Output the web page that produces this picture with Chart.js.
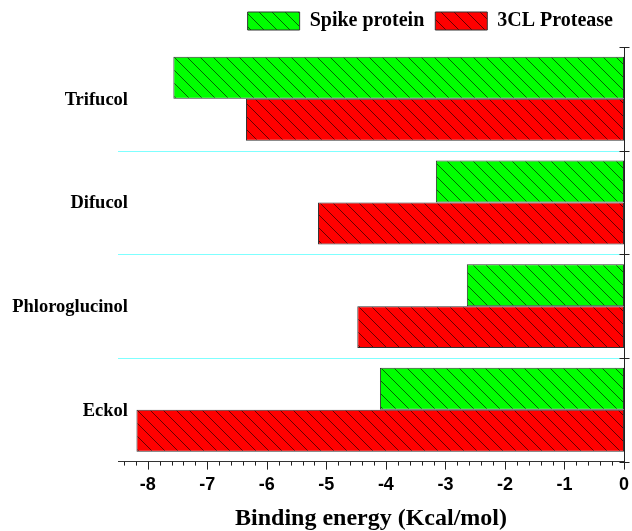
<!DOCTYPE html>
<html>
<head>
<meta charset="utf-8">
<script src="https://cdn.jsdelivr.net/npm/chart.js@4"></script>
<style>
  html, body { margin: 0; padding: 0; background: #ffffff; }
  #wrap { width: 632px; height: 531px; }
</style>
</head>
<body>
<div id="wrap"><canvas id="c"></canvas></div>
<script>
const categories = ['Trifucol', 'Difucol', 'Phloroglucinol', 'Eckol'];
const spikeProtein = [-7.57, -3.16, -2.64, -4.10];
const protease3CL = [-6.35, -5.14, -4.48, -8.19];
const xTickValues = [-8, -7, -6, -5, -4, -3, -2, -1, 0];

const serif = '"Liberation Serif", "Times New Roman", serif';
const sans = '"Liberation Sans", Arial, sans-serif';

function hatch(color) {
  const s = 13;
  const c = document.createElement('canvas');
  c.width = s; c.height = s;
  const g = c.getContext('2d');
  g.fillStyle = color;
  g.fillRect(0, 0, s, s);
  g.strokeStyle = 'rgba(0,0,0,0.6)';
  g.lineWidth = 1;
  g.beginPath();
  g.moveTo(-1, -1); g.lineTo(s + 1, s + 1);
  g.moveTo(-1, s - 1); g.lineTo(1, s + 1);
  g.moveTo(s - 1, -1); g.lineTo(s + 1, 1);
  g.stroke();
  return g.createPattern(c, 'repeat');
}

// Cyan separators between category bands
const bandLines = {
  id: 'bandLines',
  beforeDatasetsDraw(chart) {
    const ctx = chart.ctx;
    const y = chart.scales.y;
    const a = chart.chartArea;
    ctx.save();
    ctx.strokeStyle = '#7fffff';
    ctx.lineWidth = 1;
    ctx.beginPath();
    for (let i = 1; i < categories.length; i++) {
      const py = Math.round(y.getPixelForValue(i - 0.5)) + 0.5;
      ctx.moveTo(a.left, py); ctx.lineTo(a.right, py);
    }
    ctx.stroke();
    ctx.restore();
  }
};

// Category labels drawn right-aligned, slightly overlapping the plot's left edge (as in the reference)
const yLabels = {
  id: 'yLabels',
  afterDraw(chart) {
    const ctx = chart.ctx;
    const y = chart.scales.y;
    const a = chart.chartArea;
    ctx.save();
    ctx.fillStyle = '#000';
    ctx.font = 'bold 18.5px ' + serif;
    ctx.textAlign = 'right';
    ctx.textBaseline = 'middle';
    categories.forEach((lab, i) => {
      ctx.fillText(lab, a.left + 10, y.getPixelForValue(i) + 1);
    });
    ctx.restore();
  }
};

const extraAxes = {
  id: 'extraAxes',
  afterDatasetsDraw(chart) {
    const ctx = chart.ctx;
    const x = chart.scales.x, y = chart.scales.y;
    const a = chart.chartArea;
    ctx.save();
    ctx.strokeStyle = '#222';
    ctx.lineWidth = 1;
    ctx.beginPath();
    const rx = Math.round(a.right) + 0.5;
    ctx.moveTo(rx, a.top); ctx.lineTo(rx, a.bottom);
    for (let i = 0; i <= categories.length; i++) {
      const py = Math.round(y.getPixelForValue(i - 0.5)) + 0.5;
      ctx.moveTo(rx - 5, py); ctx.lineTo(rx + 5, py);
    }
    ctx.stroke();
    ctx.beginPath();
    for (let k = -42; k <= 0; k++) {
      const v = k / 5;
      const px = Math.round(x.getPixelForValue(v)) + 0.5;
      const len = (k % 5 === 0) ? 8 : 4;
      ctx.moveTo(px, a.bottom); ctx.lineTo(px, a.bottom + len);
    }
    ctx.stroke();
    ctx.restore();
  }
};

new Chart(document.getElementById('c'), {
  type: 'bar',
  data: {
    labels: categories,
    datasets: [
      {
        label: 'Spike protein',
        data: spikeProtein,
        xAxisID: 'x',
        backgroundColor: hatch('#00ff00'),
        borderColor: '#333',
        borderWidth: 1,
        borderSkipped: false
      },
      {
        label: '3CL Protease',
        data: protease3CL,
        xAxisID: 'x',
        backgroundColor: hatch('#ff0000'),
        borderColor: '#333',
        borderWidth: 1,
        borderSkipped: false
      }
    ]
  },
  options: {
    indexAxis: 'y',
    responsive: true,
    maintainAspectRatio: false,
    animation: false,
    layout: { padding: { left: 118, right: 8, top: 0, bottom: 0 } },
    datasets: { bar: { categoryPercentage: 0.81, barPercentage: 1.0 } },
    plugins: {
      legend: {
        position: 'top',
        align: 'end',
        labels: {
          boxWidth: 52,
          boxHeight: 18,
          padding: 11,
          color: '#000',
          font: { family: serif, size: 20, weight: 'bold' }
        }
      },
      tooltip: { enabled: false }
    },
    scales: {
      x: {
        type: 'linear',
        position: 'bottom',
        min: -8.5,
        max: 0,
        afterBuildTicks: s => { s.ticks = xTickValues.map(v => ({ value: v })); },
        grid: { display: false, drawTicks: true, tickLength: 13 },
        border: { display: true, color: '#333', width: 1 },
        ticks: {
          padding: 0,
          color: '#000',
          font: { family: sans, size: 18, weight: 'bold' }
        },
        title: {
          display: true,
          text: 'Binding energy (Kcal/mol)',
          color: '#000',
          padding: { top: 8, bottom: -2 },
          font: { family: serif, size: 24, weight: 'bold' }
        }
      },
      xTop: {
        type: 'linear',
        position: 'top',
        min: -8.5,
        max: 0,
        grid: { display: false, drawTicks: true, tickLength: 6 },
        border: { display: false },
        ticks: { display: false }
      },
      y: {
        type: 'category',
        offset: true,
        grid: { display: false, drawTicks: false },
        border: { display: false },
        ticks: { display: false }
      }
    }
  },
  plugins: [bandLines, extraAxes, yLabels]
});
</script>
</body>
</html>
